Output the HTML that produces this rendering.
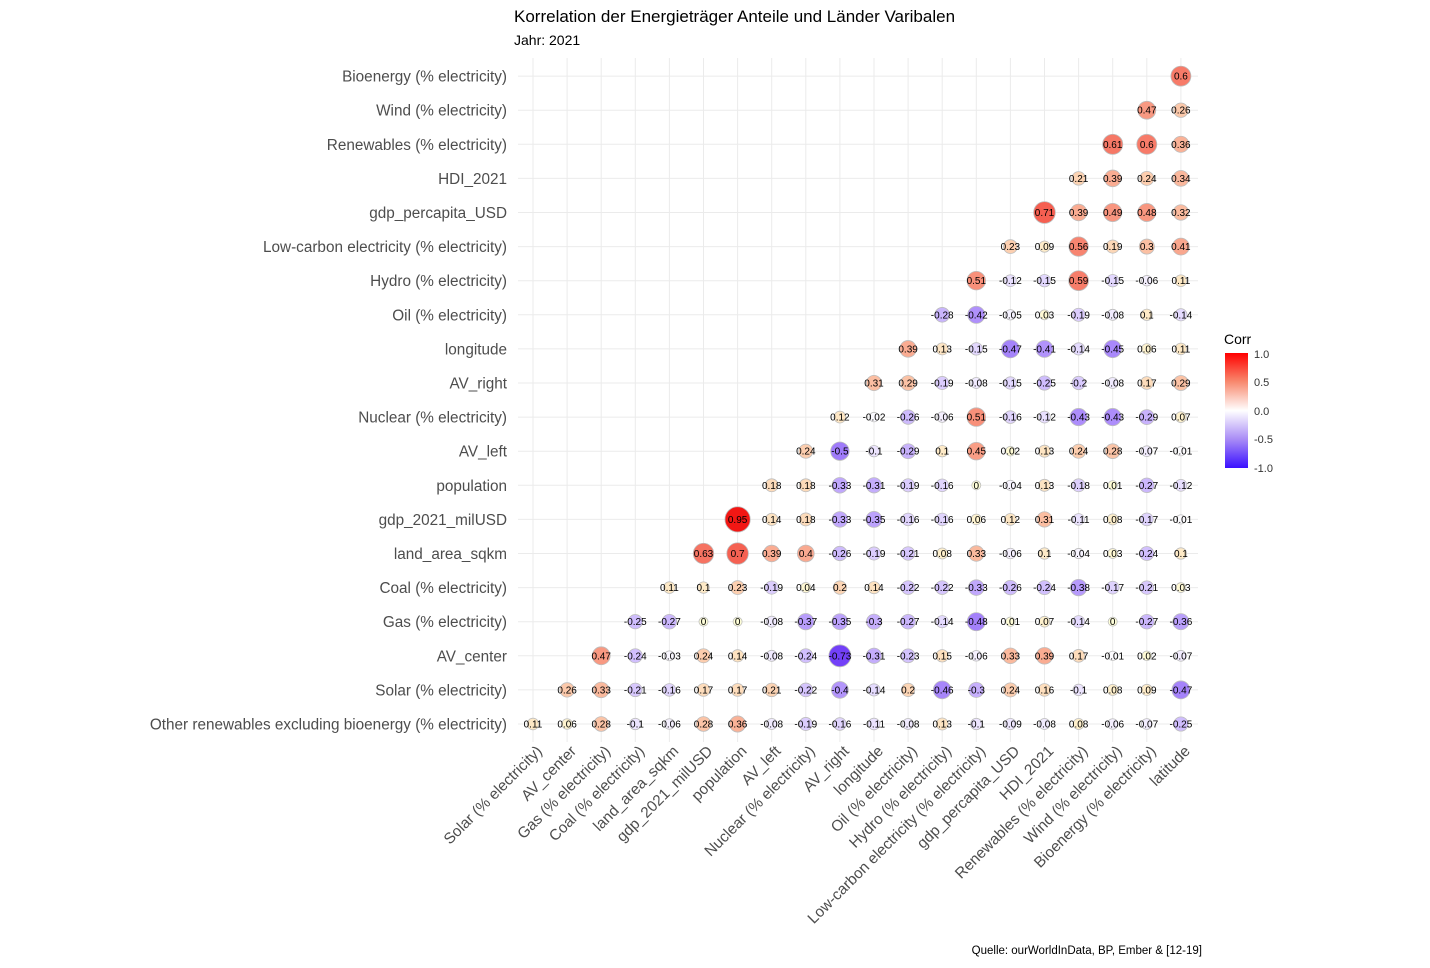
<!DOCTYPE html>
<html><head><meta charset="utf-8"><style>
body{margin:0;background:#fff;font-family:"Liberation Sans",Arial,sans-serif;}
svg text{font-family:"Liberation Sans",Arial,sans-serif;}
</style></head><body>
<svg id="chart" width="1430" height="963" xmlns="http://www.w3.org/2000/svg">
<defs><linearGradient id="lg" x1="0" y1="0" x2="0" y2="1">
<stop offset="0" stop-color="#ff0000"/><stop offset="0.25" stop-color="#f8896e"/><stop offset="0.5" stop-color="#ffffff"/><stop offset="0.75" stop-color="#a98cf6"/><stop offset="1" stop-color="#3a10ff"/></linearGradient></defs>
<text x="514" y="22" font-size="17" fill="#000">Korrelation der Energieträger Anteile und Länder Varibalen</text>
<text x="514" y="45" font-size="14" fill="#000">Jahr: 2021</text>
<text x="1202" y="954" font-size="11.5" text-anchor="end" fill="#000">Quelle: ourWorldInData, BP, Ember &amp; [12-19]</text>
<g id="grid"></g>
<g id="marks"></g>
<g id="ylab"></g>
<g id="xlab"></g>
<g>
<text x="1224" y="344" font-size="14" fill="#000">Corr</text>
<rect x="1225" y="353" width="23" height="115" fill="url(#lg)"/>
<text x="1254" y="358" font-size="11" fill="#333">1.0</text>
<text x="1254" y="386" font-size="11" fill="#333">0.5</text>
<text x="1254" y="415" font-size="11" fill="#333">0.0</text>
<text x="1254" y="443" font-size="11" fill="#333">-0.5</text>
<text x="1254" y="472" font-size="11" fill="#333">-1.0</text>
</g>
</svg>
<script>
const xVars=["Solar (% electricity)","AV_center","Gas (% electricity)","Coal (% electricity)","land_area_sqkm","gdp_2021_milUSD","population","AV_left","Nuclear (% electricity)","AV_right","longitude","Oil (% electricity)","Hydro (% electricity)","Low-carbon electricity (% electricity)","gdp_percapita_USD","HDI_2021","Renewables (% electricity)","Wind (% electricity)","Bioenergy (% electricity)","latitude"];
const yVars=["Other renewables excluding bioenergy (% electricity)","Solar (% electricity)","AV_center","Gas (% electricity)","Coal (% electricity)","land_area_sqkm","gdp_2021_milUSD","population","AV_left","Nuclear (% electricity)","AV_right","longitude","Oil (% electricity)","Hydro (% electricity)","Low-carbon electricity (% electricity)","gdp_percapita_USD","HDI_2021","Renewables (% electricity)","Wind (% electricity)","Bioenergy (% electricity)"];
const rowOther=[0.11,0.06,0.28,-0.1,-0.06,0.28,0.36,-0.08,-0.19,-0.16,-0.11,-0.08,0.13,-0.1,-0.09,-0.08,0.08,-0.06,-0.07,-0.25];
const rowSolar=[0.26,0.33,-0.21,-0.16,0.17,0.17,0.21,-0.22,-0.4,-0.14,0.2,-0.46,-0.3,0.24,0.16,-0.1,0.08,0.09,-0.47];
const rowAVcenter=[0.47,-0.24,-0.03,0.24,0.14,-0.08,-0.24,-0.73,-0.31,-0.23,0.15,-0.06,0.33,0.39,0.17,-0.01,0.02,-0.07];
const rowGas=[-0.25,-0.27,0,0,-0.08,-0.37,-0.35,-0.3,-0.27,-0.14,-0.48,0.01,0.07,-0.14,0,-0.27,-0.36];
const rowCoal=[0.11,0.1,0.23,-0.19,0.04,0.2,0.14,-0.22,-0.22,-0.33,-0.26,-0.24,-0.38,-0.17,-0.21,0.03];
const rowLand=[0.63,0.7,0.39,0.4,-0.26,-0.19,-0.21,0.08,0.33,-0.06,0.1,-0.04,0.03,-0.24,0.1];
const rowGdp=[0.95,0.14,0.18,-0.33,-0.35,-0.16,-0.16,0.06,0.12,0.31,-0.11,0.08,-0.17,-0.01];
const rowPop=[0.18,0.18,-0.33,-0.31,-0.19,-0.16,0,-0.04,0.13,-0.18,0.01,-0.27,-0.12];
const rowAVleft=[0.24,-0.5,-0.1,-0.29,0.1,0.45,0.02,0.13,0.24,0.28,-0.07,-0.01];
const rowNuclear=[0.12,-0.02,-0.26,-0.06,0.51,-0.16,-0.12,-0.43,-0.43,-0.29,0.07];
const rowAVright=[0.31,0.29,-0.19,-0.08,-0.15,-0.25,-0.2,-0.08,0.17,0.29];
const rowLongitude=[0.39,0.13,-0.15,-0.47,-0.41,-0.14,-0.45,0.06,0.11];
const rowOil=[-0.28,-0.42,-0.05,0.03,-0.19,-0.08,0.1,-0.14];
const rowHydro=[0.51,-0.12,-0.15,0.59,-0.15,-0.06,0.11];
const rowLowCarbon=[0.23,0.09,0.56,0.19,0.3,0.41];
const rowGdpPc=[0.71,0.39,0.49,0.48,0.32];
const rowHDI=[0.21,0.39,0.24,0.34];
const rowRenew=[0.61,0.6,0.36];
const rowWind=[0.47,0.26];
const rowBio=[0.6];
const rows=[rowOther,rowSolar,rowAVcenter,rowGas,rowCoal,rowLand,rowGdp,rowPop,rowAVleft,rowNuclear,rowAVright,rowLongitude,rowOil,rowHydro,rowLowCarbon,rowGdpPc,rowHDI,rowRenew,rowWind,rowBio];

const NS="http://www.w3.org/2000/svg";
const x0=533,step=34.1,yBottom=724;
function xPos(i){return x0+i*step;}
function yPos(k){return yBottom-k*step;}
function color(v){
  const t=Math.abs(v);
  if(v>=0){const g=Math.round(255*Math.pow(1-t,0.8));return `rgb(${Math.round(255-14*t)},${g},${Math.round(g*0.85)})`;}
  return `rgb(${Math.round(255*(1-0.75*t))},${Math.round(255*Math.pow(1-t,1.05))},${Math.round(255-10*t)})`;
}
function radius(v){return 4.5+8.5*Math.pow(Math.abs(v),0.85);}
function el(tag,attrs,parent){const e=document.createElementNS(NS,tag);for(const k in attrs)e.setAttribute(k,attrs[k]);parent.appendChild(e);return e;}

const grid=document.getElementById('grid');
for(let i=0;i<xVars.length;i++){
  const l=el('line',{x1:xPos(i),x2:xPos(i),y1:58,y2:742,stroke:'#ebebeb','stroke-width':1},grid);
  
  
}
for(let k=0;k<yVars.length;k++){
  const l=el('line',{x1:518,x2:1198,y1:yPos(k),y2:yPos(k),stroke:'#ebebeb','stroke-width':1},grid);
  
  
}
const marks=document.getElementById('marks');
rows.forEach((row,k)=>{
  row.forEach((v,j)=>{
    const ci=k+j,cx=xPos(ci),cy=yPos(k);
    const c=el('circle',{cx:cx,cy:cy,r:radius(v),fill:color(v),stroke:'#bdbdbd','stroke-width':0.8},marks);
    
    
    const t=el('text',{x:cx,y:cy+3.5,'font-size':10,'text-anchor':'middle',fill:'#000'},marks);
    t.textContent=String(v);
    
    
  });
});
const yl=document.getElementById('ylab');
yVars.forEach((n,k)=>{
  const t=el('text',{x:507,y:yPos(k)+5.5,'font-size':15.3,'text-anchor':'end',fill:'#4d4d4d'},yl);
  t.textContent=n;
  
  
});
const xl=document.getElementById('xlab');
xVars.forEach((n,i)=>{
  const x=xPos(i)+10,y=752;
  const t=el('text',{x:x,y:y,'font-size':15.3,'text-anchor':'end',fill:'#4d4d4d',transform:`rotate(-45 ${x} ${y})`},xl);
  t.textContent=n;
  
  
});
</script>
</body></html>
